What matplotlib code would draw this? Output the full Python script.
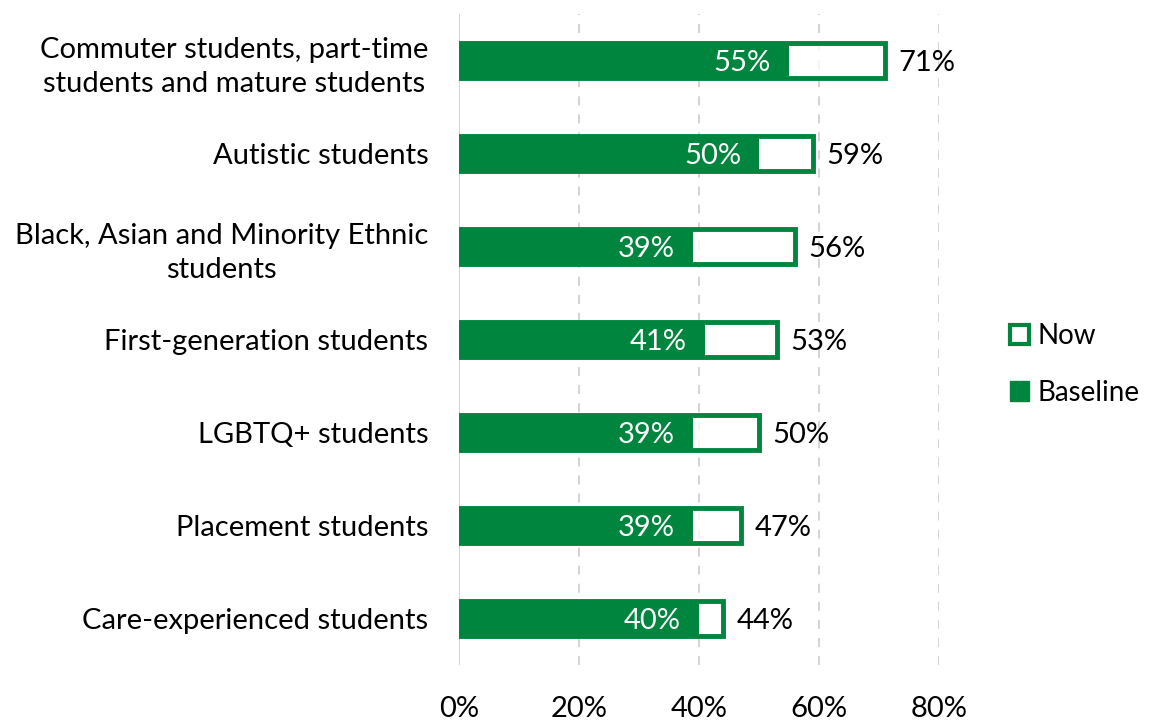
import matplotlib
matplotlib.use("Agg")
import matplotlib.pyplot as plt
from matplotlib.patches import Patch
from matplotlib.ticker import FuncFormatter

plt.rcParams['font.family'] = ['Lato', 'DejaVu Sans']

categories = [
    "Commuter students, part-time\nstudents and mature students",
    "Autistic students",
    "Black, Asian and Minority Ethnic\nstudents",
    "First-generation students",
    "LGBTQ+ students",
    "Placement students",
    "Care-experienced students",
]
now = [71, 59, 56, 53, 50, 47, 44]
baseline = [55, 50, 39, 41, 39, 39, 40]
xticks = [0, 20, 40, 60, 80]

GREEN = "#00853E"
FS = 21

fig = plt.figure(figsize=(11.49, 7.2), dpi=100)
ax = fig.add_axes([0.3995, 0.0764, 0.4177, 0.9042])

ypos = list(range(len(categories)))
bar_h = 0.37

# "Now" bars: outlined, mostly transparent so gridlines show through
ax.barh(ypos, now, height=bar_h, facecolor=(1, 1, 1, 0.75),
        edgecolor=GREEN, linewidth=3.5, zorder=2)
# "Baseline" bars: solid fill on top
ax.barh(ypos, baseline, height=bar_h + 0.02, color=GREEN, linewidth=0, zorder=3)

for y, n, b in zip(ypos, now, baseline):
    ax.text(b - 3.0, y, f"{b}%", ha="right", va="center_baseline", color="white",
            fontsize=FS, zorder=4)
    ax.text(n + 2.2, y, f"{n}%", ha="left", va="center_baseline", color="black",
            fontsize=FS, zorder=4)

ax.set_xlim(0, 80)
ax.set_ylim(len(categories) - 0.5, -0.5)
ax.set_xticks(xticks)
ax.xaxis.set_major_formatter(FuncFormatter(lambda v, p: f"{v:.0f}%"))
ax.set_yticks(ypos)
ax.set_yticklabels(categories, fontsize=FS, ha="right",
                   multialignment="center", linespacing=1.4)
ax.tick_params(axis="both", length=0)
ax.tick_params(axis="x", labelsize=FS, pad=22)
ax.tick_params(axis="y", pad=22)

for x in xticks[1:]:
    ax.axvline(x, color="#d0d0d0", linestyle=(0, (5, 5)), linewidth=1.3, zorder=1)
ax.axvline(0, color="#d0d0d0", linewidth=1.3, zorder=1)

for s in ax.spines.values():
    s.set_visible(False)

handles = [
    Patch(facecolor="white", edgecolor=GREEN, linewidth=3),
    Patch(facecolor=GREEN, edgecolor=GREEN),
]
fig.legend(handles, ["Now", "Baseline"], loc="center left",
           bbox_to_anchor=(0.879, 0.494), frameon=False, fontsize=20,
           handlelength=0.7, handleheight=0.7, handletextpad=0.3,
           labelspacing=1.1, borderpad=0, borderaxespad=0)

fig.savefig("out.png", dpi=100)
